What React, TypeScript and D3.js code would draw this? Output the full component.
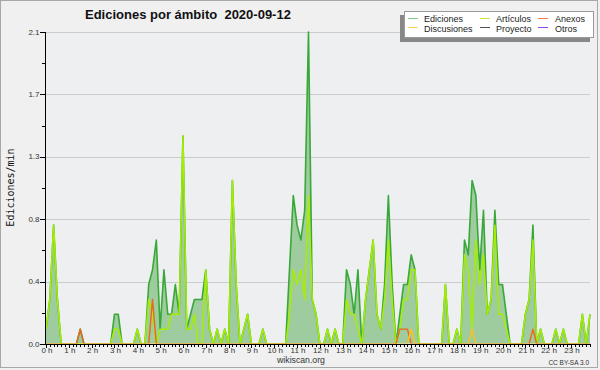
import React from "react";
import * as d3 from "d3";

// 10-minute bins, edits per minute (00:00 .. 23:50)
const ediciones = [
  0.1, 0.3, 0.8, 0.3, 0, 0,
  0, 0, 0, 0.1, 0, 0,
  0, 0, 0, 0, 0, 0,
  0.2, 0.2, 0, 0, 0, 0,
  0.1, 0, 0, 0.4, 0.5, 0.7,
  0.1, 0.5, 0.2, 0.2, 0.4, 0.2,
  1.4, 0.1, 0.2, 0.3, 0.3, 0.3,
  0.5, 0.1, 0, 0.1, 0, 0.1,
  0, 1.1, 0.4, 0, 0.1, 0.2,
  0, 0, 0, 0.1, 0, 0,
  0, 0, 0, 0, 0.5, 1.0,
  0.8, 0.7, 0.9, 2.1, 0.3, 0.2,
  0, 0, 0.1, 0, 0.1, 0,
  0, 0.5, 0.4, 0.2, 0.5, 0,
  0.3, 0.5, 0.7, 0.2, 0.1, 0.4,
  1.0, 0.4, 0, 0.2, 0.4, 0.4,
  0.6, 0.5, 0, 0, 0, 0,
  0, 0, 0, 0.4, 0, 0,
  0.1, 0, 0.7, 0.6, 1.1, 1.0,
  0.5, 0.9, 0.2, 0.3, 0.9, 0.4,
  0.4, 0.2, 0, 0, 0, 0,
  0.2, 0.3, 0.8, 0, 0.1, 0,
  0, 0, 0.1, 0, 0.1, 0,
  0, 0, 0, 0.2, 0, 0.2,
];

const articulos = [
  0.1, 0.3, 0.8, 0.3, 0, 0,
  0, 0, 0, 0, 0, 0,
  0, 0, 0, 0, 0, 0,
  0.1, 0.1, 0, 0, 0, 0,
  0.1, 0, 0, 0.3, 0.2, 0,
  0.1, 0.1, 0.1, 0.2, 0.2, 0.2,
  1.4, 0.1, 0.1, 0.2, 0, 0,
  0.5, 0.1, 0, 0.1, 0, 0.1,
  0, 1.1, 0.4, 0, 0.1, 0.2,
  0, 0, 0, 0.1, 0, 0,
  0, 0, 0, 0, 0.2, 0.5,
  0.4, 0.5, 0.3, 1.0, 0.3, 0.2,
  0, 0, 0.1, 0, 0.1, 0,
  0, 0.3, 0.2, 0.2, 0.1, 0,
  0.3, 0.5, 0.7, 0.2, 0.1, 0.3,
  0.7, 0.3, 0, 0.1, 0.3, 0.3,
  0.5, 0.5, 0, 0, 0, 0,
  0, 0, 0, 0.4, 0, 0,
  0.1, 0, 0.6, 0.5, 0.1, 0.7,
  0.4, 0.6, 0.2, 0.3, 0.8, 0.2,
  0.2, 0.1, 0, 0, 0, 0,
  0.2, 0.3, 0.7, 0, 0.1, 0,
  0, 0, 0.1, 0, 0.1, 0,
  0, 0, 0, 0.2, 0, 0.2,
];

const anexos = [
  0, 0, 0, 0, 0, 0,
  0, 0, 0, 0.1, 0, 0,
  0, 0, 0, 0, 0, 0,
  0, 0, 0, 0, 0, 0,
  0, 0, 0, 0, 0.3, 0,
  0, 0, 0, 0, 0, 0,
  0, 0, 0, 0, 0, 0,
  0, 0, 0, 0, 0, 0,
  0, 0, 0, 0, 0, 0,
  0, 0, 0, 0, 0, 0,
  0, 0, 0, 0, 0, 0,
  0, 0, 0, 0, 0, 0,
  0, 0, 0, 0, 0, 0,
  0, 0, 0, 0, 0, 0,
  0, 0, 0, 0, 0, 0,
  0, 0, 0, 0.1, 0.1, 0.1,
  0, 0, 0, 0, 0, 0,
  0, 0, 0, 0, 0, 0,
  0, 0, 0, 0, 0, 0,
  0, 0, 0, 0, 0, 0,
  0, 0, 0, 0, 0, 0,
  0, 0, 0.1, 0, 0, 0,
  0, 0, 0, 0, 0, 0,
  0, 0, 0, 0, 0, 0,
];

const discusiones = [
  0, 0, 0, 0, 0, 0,
  0, 0, 0, 0, 0, 0,
  0, 0, 0, 0, 0, 0,
  0, 0, 0, 0, 0, 0,
  0, 0, 0, 0, 0, 0,
  0, 0, 0, 0, 0, 0,
  0, 0, 0, 0, 0, 0,
  0, 0, 0, 0, 0, 0,
  0, 0, 0, 0, 0, 0,
  0, 0, 0, 0, 0, 0,
  0, 0, 0, 0, 0, 0,
  0, 0, 0, 0, 0, 0,
  0, 0, 0, 0, 0, 0,
  0, 0, 0, 0, 0, 0,
  0, 0, 0, 0, 0, 0,
  0, 0, 0, 0, 0, 0,
  0.1, 0, 0, 0, 0, 0,
  0, 0, 0, 0, 0, 0,
  0, 0, 0, 0, 0.1, 0,
  0, 0, 0, 0, 0, 0,
  0, 0, 0, 0, 0, 0,
  0, 0, 0, 0, 0, 0,
  0, 0, 0, 0, 0, 0,
  0, 0, 0, 0, 0, 0,
];

const yMax = 2.1;
const yTickLabels = ["0.0", "0.4", "0.8", "1.3", "1.7", "2.1"];
const hourLabels = d3.range(24).map((h) => `${h} h`);

const legendItems = [
  { name: "Ediciones", color: "#7fcc7f" },
  { name: "Artículos", color: "#c4ec3c" },
  { name: "Anexos", color: "#ff7a40" },
  { name: "Discusiones", color: "#ffd34a" },
  { name: "Proyecto", color: "#555555" },
  { name: "Otros", color: "#8c4ae8" },
];

const W = 600;
const H = 370;
const L = 46;
const R = 590;
const T = 32;
const B = 344;

export default function App() {
  const n = ediciones.length;
  const x = d3.scaleLinear().domain([0, n - 1]).range([L, R]);
  const y = d3.scaleLinear().domain([0, yMax]).range([B, T]);

  const area = d3
    .area<number>()
    .x((_, i) => x(i))
    .y0(B)
    .y1((d) => y(d));
  const line = d3
    .line<number>()
    .x((_, i) => x(i))
    .y((d) => y(d));

  const majorVals = yTickLabels.map((_, i) => (yMax * i) / (yTickLabels.length - 1));
  const minorVals = d3.range(0, yTickLabels.length - 1).map((i) => (yMax * (i + 0.5)) / (yTickLabels.length - 1));

  const font = "'Liberation Sans', Arial, sans-serif";

  return (
    <svg
      width={W}
      height={H}
      style={{ position: "absolute", left: 0, top: 0, display: "block" }}
    >
      <defs>
        <clipPath id="plotclip">
          <rect x={L} y={T - 2} width={R - L + 2} height={B - T + 1.6} />
        </clipPath>
      </defs>
      <rect x={0} y={0} width={W} height={H} fill="#f0f0f0" />
      <rect x={0.5} y={0.5} width={597} height={367} fill="#f0f0f0" stroke="#a8a8a8" />
      <rect x={L} y={T} width={R - L} height={B - T} fill="#eeeff1" />

      {/* grid */}
      {majorVals.slice(1).map((v, i) => (
        <line key={"g" + i} x1={L} x2={R} y1={Math.round(y(v)) + 0.5} y2={Math.round(y(v)) + 0.5} stroke="#cccccc" strokeWidth={1} />
      ))}

      <g clipPath="url(#plotclip)">
        <path d={area(ediciones) || ""} fill="#9fcc9f" />
        <path d={line(ediciones) || ""} fill="none" stroke="#38a838" strokeWidth={1.6} strokeLinejoin="round" />
        <path d={line(articulos) || ""} fill="none" stroke="#a6ee00" strokeWidth={1.5} strokeLinejoin="round" />
        <path d={line(anexos) || ""} fill="none" stroke="#f0641e" strokeWidth={1.4} strokeLinejoin="round" />
        <path d={line(discusiones) || ""} fill="none" stroke="#ffc21a" strokeWidth={1.4} strokeLinejoin="round" />
      </g>

      {/* axes */}
      <line x1={L - 0.5} x2={L - 0.5} y1={T} y2={B + 0.5} stroke="#000" />
      <line x1={L - 0.5} x2={R + 1} y1={B + 0.5} y2={B + 0.5} stroke="#000" />

      {majorVals.map((v, i) => (
        <g key={"yt" + i}>
          <line x1={L - 6} x2={L} y1={Math.round(y(v)) + 0.5} y2={Math.round(y(v)) + 0.5} stroke="#000" />
          <text x={L - 6.5} y={y(v) + 2.5} fontSize={8} fontFamily={font} fill="#333" textAnchor="end">
            {yTickLabels[i]}
          </text>
        </g>
      ))}
      {minorVals.map((v, i) => (
        <line key={"ym" + i} x1={L - 4} x2={L} y1={Math.round(y(v)) + 0.5} y2={Math.round(y(v)) + 0.5} stroke="#000" />
      ))}

      {ediciones.map((_, i) => (
        <line key={"xt" + i} x1={Math.round(x(i)) + 0.5} x2={Math.round(x(i)) + 0.5} y1={B} y2={B + (i % 6 === 0 ? 4 : 3)} stroke="#000" />
      ))}
      {hourLabels.map((lab, h) => (
        <text key={"xl" + h} x={x(h * 6) + 1} y={352.5} fontSize={8} fontFamily={font} fill="#333" textAnchor="middle">
          {lab}
        </text>
      ))}

      {/* title */}
      <text x={85} y={19} fontSize={13} fontWeight="bold" fontFamily={font} fill="#111" style={{ whiteSpace: "pre" }}>
        {"Ediciones por ámbito  2020-09-12"}
      </text>

      {/* y label */}
      <text
        transform="translate(13.5,187.5) rotate(-90)"
        fontSize={10}
        fontFamily="'DejaVu Sans Mono', monospace"
        fill="#111"
        textAnchor="middle"
      >
        Ediciones/min
      </text>

      {/* legend */}
      <rect x={400} y={15} width={190} height={27} fill="#888888" />
      <rect x={404.5} y={11.5} width={189} height={26} fill="#ffffff" stroke="#9a9a9a" />
      {legendItems.map((it, i) => {
        const col = i % 3;
        const row = Math.floor(i / 3);
        const lx = [408, 480, 538][col];
        const tx = [424, 496, 555][col];
        const ly = row === 0 ? 18.5 : 27.5;
        const ty = row === 0 ? 21.8 : 32;
        return (
          <g key={"lg" + i}>
            <line x1={lx} x2={lx + 10} y1={ly} y2={ly} stroke={it.color} strokeWidth={1} />
            <text x={tx} y={ty} fontSize={9} fontFamily={font} fill="#222">
              {it.name}
            </text>
          </g>
        );
      })}

      {/* footer */}
      <text x={301} y={363} fontSize={8.7} fontFamily={font} fill="#333" textAnchor="middle">
        wikiscan.org
      </text>
      <text x={589} y={365} fontSize={6.5} fontFamily={font} fill="#333" textAnchor="end">
        CC BY-SA 3.0
      </text>
    </svg>
  );
}
